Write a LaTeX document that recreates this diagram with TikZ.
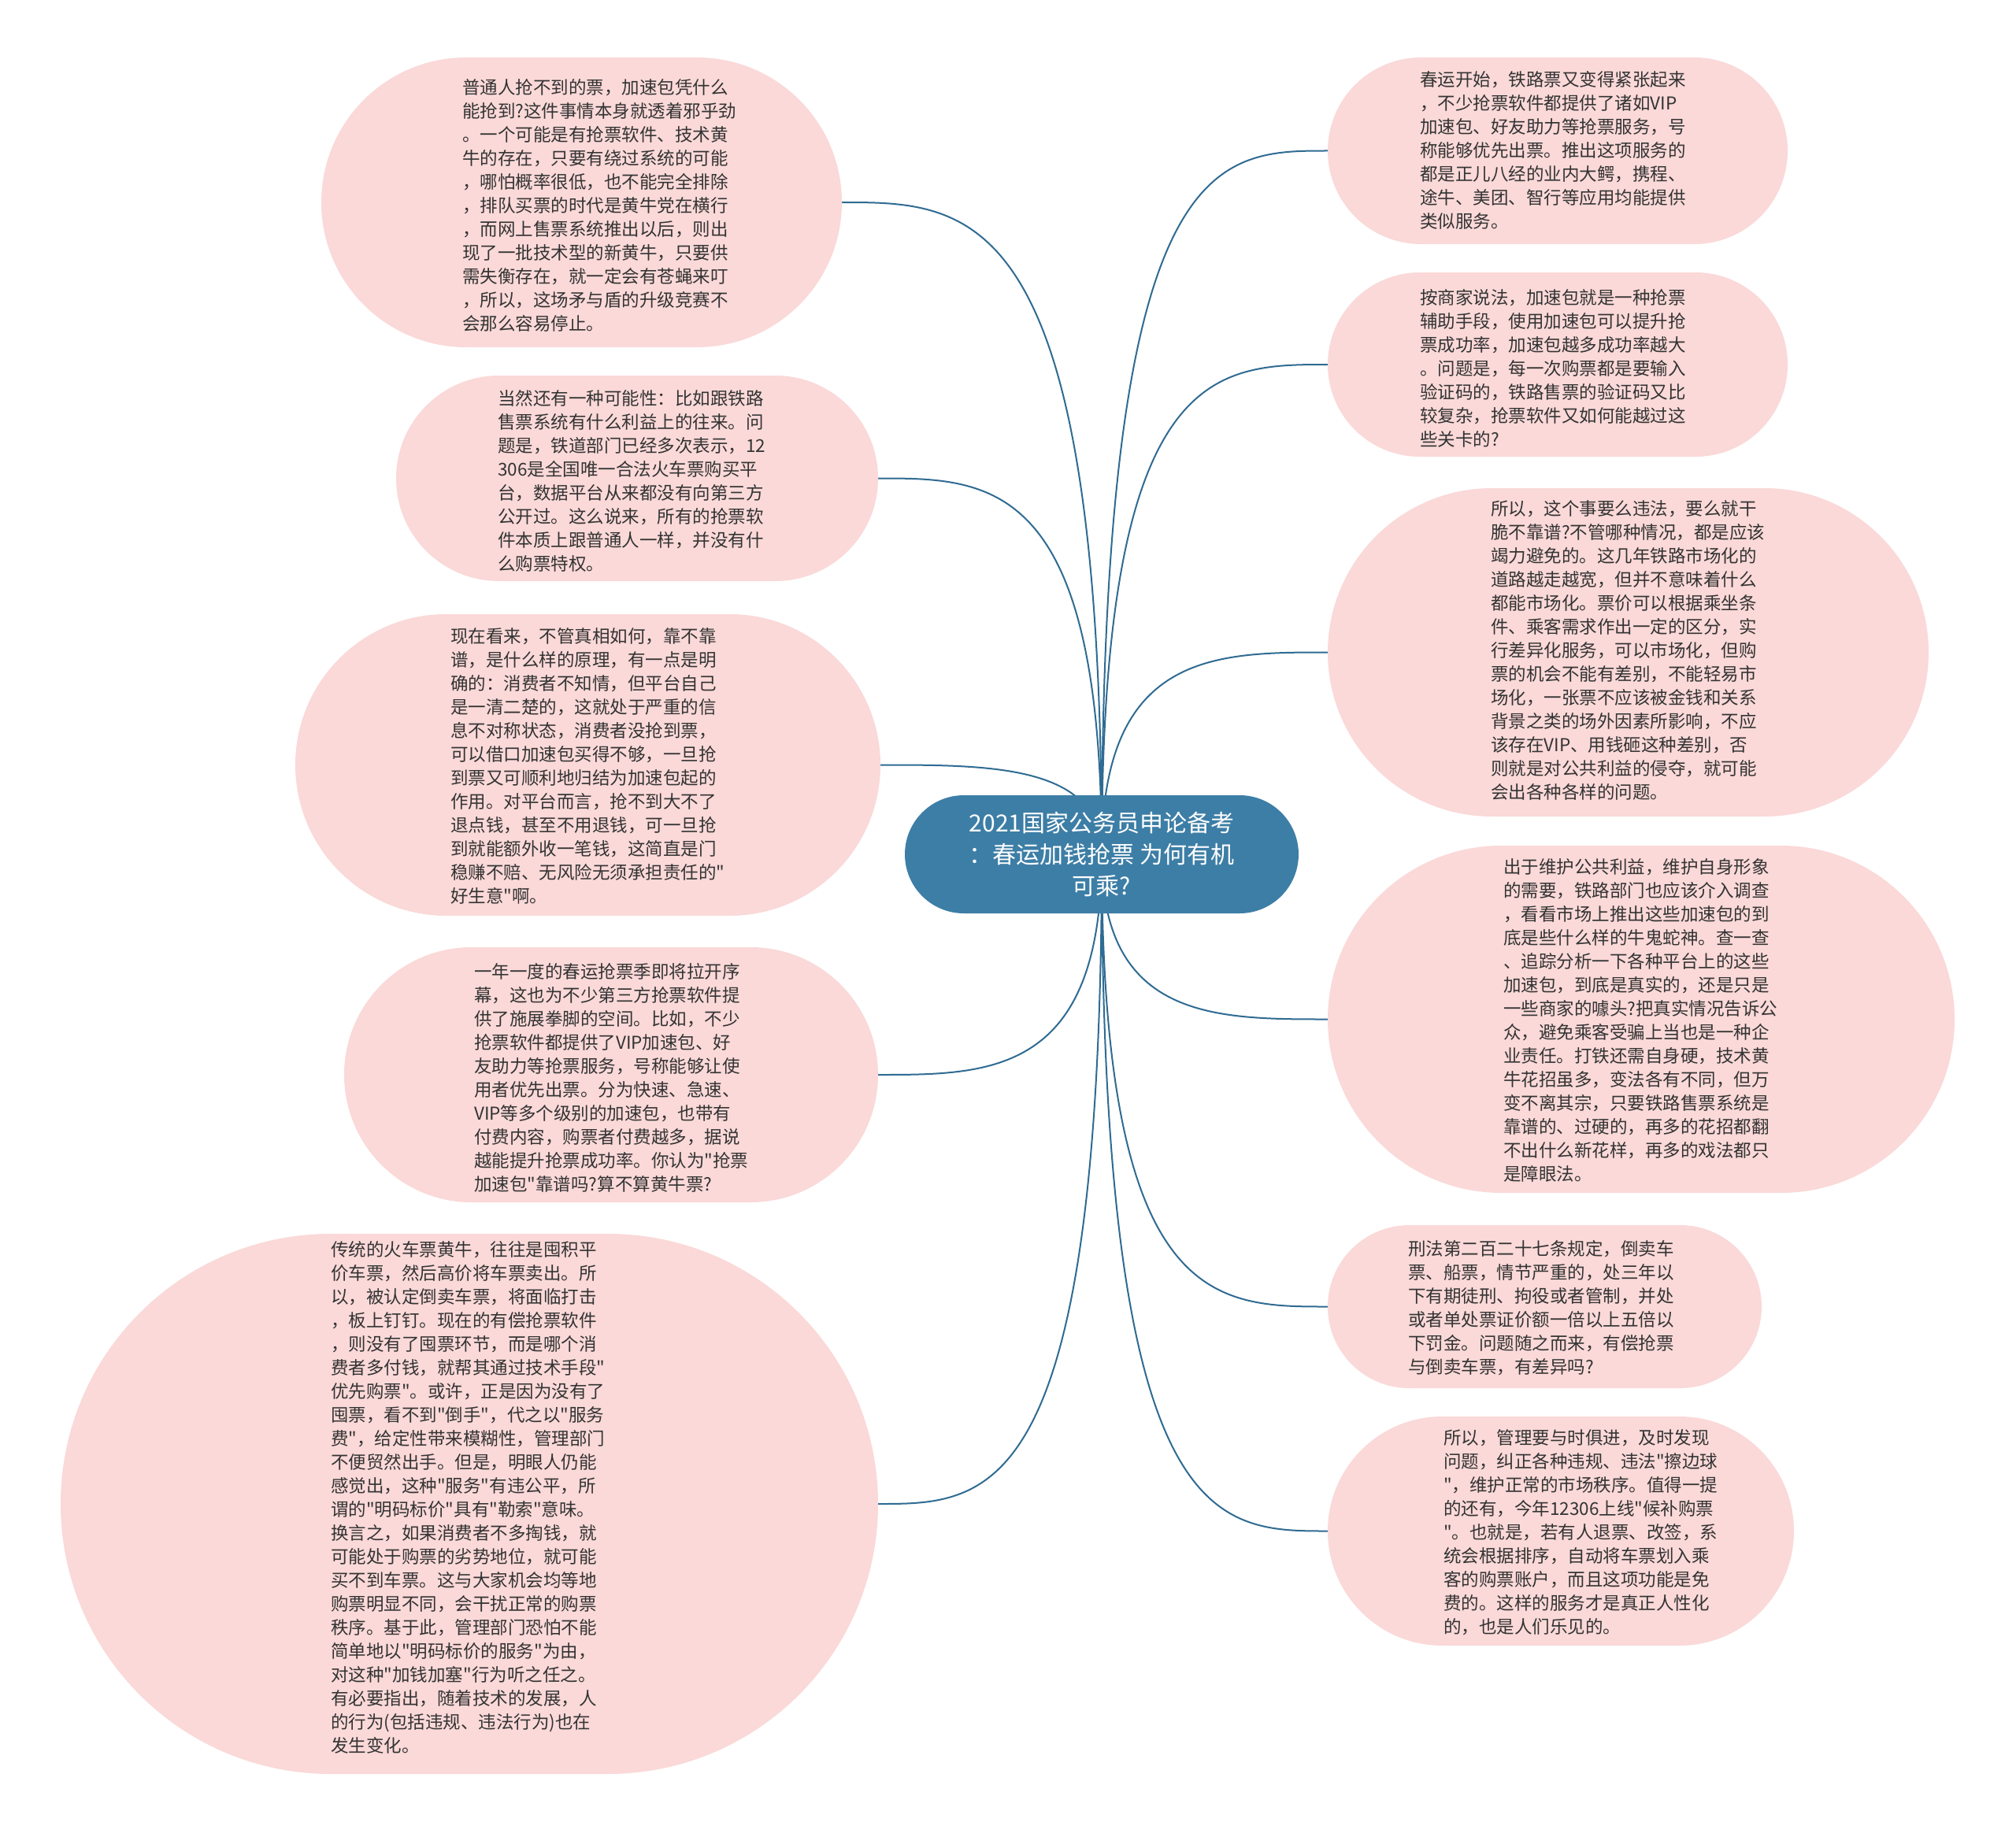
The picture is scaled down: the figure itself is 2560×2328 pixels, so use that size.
\documentclass[tikz,border=0pt]{standalone}
\usepackage{fontspec}
\newfontfamily\cjk{Noto Sans CJK SC}
\usetikzlibrary{calc}
\definecolor{pinkbg}{HTML}{FAD9D8}
\definecolor{linkc}{HTML}{2F6B92}
\definecolor{centerc}{HTML}{3D7EA6}
\definecolor{txtc}{HTML}{333333}
\pgfdeclarelayer{bg}
\pgfdeclarelayer{paper}
\pgfsetlayers{paper,bg,main}
\begin{document}
\begin{tikzpicture}[x=1pt,y=-1pt,
  bubble/.style={fill=pinkbg, inner sep=0pt, draw=none},
  txt/.style={font=\cjk\fontsize{22.5}{30}\selectfont, text=txtc, align=left, inner sep=0pt, anchor=north west},
  hub/.style={fill=centerc, draw=none, rounded corners=75pt, minimum width=500pt, minimum height=150pt, inner sep=0pt,
    font=\cjk\fontsize{30}{40}\selectfont, text=white, align=center},
  link/.style={draw=linkc, line width=2pt}]
\begin{pgfonlayer}{paper}
\fill[white] (0,0) rectangle (2560,2328);
\end{pgfonlayer}
\useasboundingbox (0,0) rectangle (2560,2328);

\node[hub] (C) at (1399,1085) {2021国家公务员申论备考\\：春运加钱抢票 为何有机\\可乘?};

% left bubbles
\node[bubble, minimum width=661pt, minimum height=368pt, rounded corners=184pt] (L1) at (738.5,257) {};
\node[txt] (L1t) at (587,100) {普通人抢不到的票，加速包凭什么\\能抢到?这件事情本身就透着邪乎劲\\。一个可能是有抢票软件、技术黄\\牛的存在，只要有绕过系统的可能\\，哪怕概率很低，也不能完全排除\\，排队买票的时代是黄牛党在横行\\，而网上售票系统推出以后，则出\\现了一批技术型的新黄牛，只要供\\需失衡存在，就一定会有苍蝇来叮\\，所以，这场矛与盾的升级竞赛不\\会那么容易停止。};

\node[bubble, minimum width=612pt, minimum height=261pt, rounded corners=130.5pt] (L2) at (809,607.5) {};
\node[txt] (L2t) at (632,495) {当然还有一种可能性：比如跟铁路\\售票系统有什么利益上的往来。问\\题是，铁道部门已经多次表示，12\\306是全国唯一合法火车票购买平\\台，数据平台从来都没有向第三方\\公开过。这么说来，所有的抢票软\\件本质上跟普通人一样，并没有什\\么购票特权。};

\node[bubble, minimum width=743pt, minimum height=383pt, rounded corners=191.5pt] (L3) at (746.5,971.5) {};
\node[txt] (L3t) at (572,797) {现在看来，不管真相如何，靠不靠\\谱，是什么样的原理，有一点是明\\确的：消费者不知情，但平台自己\\是一清二楚的，这就处于严重的信\\息不对称状态，消费者没抢到票，\\可以借口加速包买得不够，一旦抢\\到票又可顺利地归结为加速包起的\\作用。对平台而言，抢不到大不了\\退点钱，甚至不用退钱，可一旦抢\\到就能额外收一笔钱，这简直是门\\稳赚不赔、无风险无须承担责任的"\\好生意"啊。};

\node[bubble, minimum width=678pt, minimum height=324pt, rounded corners=162pt] (L4) at (776,1365) {};
\node[txt] (L4t) at (602,1223) {一年一度的春运抢票季即将拉开序\\幕，这也为不少第三方抢票软件提\\供了施展拳脚的空间。比如，不少\\抢票软件都提供了VIP加速包、好\\友助力等抢票服务，号称能够让使\\用者优先出票。分为快速、急速、\\VIP等多个级别的加速包，也带有\\付费内容，购票者付费越多，据说\\越能提升抢票成功率。你认为"抢票\\加速包"靠谱吗?算不算黄牛票?};

\node[bubble, minimum width=1038pt, minimum height=686pt, rounded corners=343pt] (L5) at (596,1910) {};
\node[txt] (L5t) at (420,1576) {传统的火车票黄牛，往往是囤积平\\价车票，然后高价将车票卖出。所\\以，被认定倒卖车票，将面临打击\\，板上钉钉。现在的有偿抢票软件\\，则没有了囤票环节，而是哪个消\\费者多付钱，就帮其通过技术手段"\\优先购票"。或许，正是因为没有了\\囤票，看不到"倒手"，代之以"服务\\费"，给定性带来模糊性，管理部门\\不便贸然出手。但是，明眼人仍能\\感觉出，这种"服务"有违公平，所\\谓的"明码标价"具有"勒索"意味。\\换言之，如果消费者不多掏钱，就\\可能处于购票的劣势地位，就可能\\买不到车票。这与大家机会均等地\\购票明显不同，会干扰正常的购票\\秩序。基于此，管理部门恐怕不能\\简单地以"明码标价的服务"为由，\\对这种"加钱加塞"行为听之任之。\\有必要指出，随着技术的发展，人\\的行为(包括违规、违法行为)也在\\发生变化。};

% right bubbles
\node[bubble, minimum width=584pt, minimum height=237pt, rounded corners=118.5pt] (R1) at (1978,191.5) {};
\node[txt] (R1t) at (1803,90) {春运开始，铁路票又变得紧张起来\\，不少抢票软件都提供了诸如VIP\\加速包、好友助力等抢票服务，号\\称能够优先出票。推出这项服务的\\都是正儿八经的业内大鳄，携程、\\途牛、美团、智行等应用均能提供\\类似服务。};

\node[bubble, minimum width=584pt, minimum height=234pt, rounded corners=117pt] (R2) at (1978,463) {};
\node[txt] (R2t) at (1803,367) {按商家说法，加速包就是一种抢票\\辅助手段，使用加速包可以提升抢\\票成功率，加速包越多成功率越大\\。问题是，每一次购票都是要输入\\验证码的，铁路售票的验证码又比\\较复杂，抢票软件又如何能越过这\\些关卡的?};

\node[bubble, minimum width=763pt, minimum height=417pt, rounded corners=208.5pt] (R3) at (2067.5,828.5) {};
\node[txt] (R3t) at (1893,635) {所以，这个事要么违法，要么就干\\脆不靠谱?不管哪种情况，都是应该\\竭力避免的。这几年铁路市场化的\\道路越走越宽，但并不意味着什么\\都能市场化。票价可以根据乘坐条\\件、乘客需求作出一定的区分，实\\行差异化服务，可以市场化，但购\\票的机会不能有差别，不能轻易市\\场化，一张票不应该被金钱和关系\\背景之类的场外因素所影响，不应\\该存在VIP、用钱砸这种差别，否\\则就是对公共利益的侵夺，就可能\\会出各种各样的问题。};

\node[bubble, minimum width=796pt, minimum height=441pt, rounded corners=220.5pt] (R4) at (2084,1294.5) {};
\node[txt] (R4t) at (1909,1090) {出于维护公共利益，维护自身形象\\的需要，铁路部门也应该介入调查\\，看看市场上推出这些加速包的到\\底是些什么样的牛鬼蛇神。查一查\\、追踪分析一下各种平台上的这些\\加速包，到底是真实的，还是只是\\一些商家的噱头?把真实情况告诉公\\众，避免乘客受骗上当也是一种企\\业责任。打铁还需自身硬，技术黄\\牛花招虽多，变法各有不同，但万\\变不离其宗，只要铁路售票系统是\\靠谱的、过硬的，再多的花招都翻\\不出什么新花样，再多的戏法都只\\是障眼法。};

\node[bubble, minimum width=551pt, minimum height=207pt, rounded corners=103.5pt] (R5) at (1961.5,1659.5) {};
\node[txt] (R5t) at (1788,1575) {刑法第二百二十七条规定，倒卖车\\票、船票，情节严重的，处三年以\\下有期徒刑、拘役或者管制，并处\\或者单处票证价额一倍以上五倍以\\下罚金。问题随之而来，有偿抢票\\与倒卖车票，有差异吗?};

\node[bubble, minimum width=592pt, minimum height=291pt, rounded corners=145.5pt] (R6) at (1982,1944.5) {};
\node[txt] (R6t) at (1833,1815) {所以，管理要与时俱进，及时发现\\问题，纠正各种违规、违法"擦边球\\"，维护正常的市场秩序。值得一提\\的还有，今年12306上线"候补购票\\"。也就是，若有人退票、改签，系\\统会根据排序，自动将车票划入乘\\客的购票账户，而且这项功能是免\\费的。这样的服务才是真正人性化\\的，也是人们乐见的。};

\begin{pgfonlayer}{bg}
\foreach \n/\a in {L1/east,L2/east,L3/east,L4/east,L5/east,R1/west,R2/west,R3/west,R4/west,R5/west,R6/west}
  \draw[link] (C.center) .. controls (C.center |- \n.\a) and ($(C.center |- \n.\a)!0.5!(\n.\a)$) .. (\n.\a);
\end{pgfonlayer}
\end{tikzpicture}
\end{document}
